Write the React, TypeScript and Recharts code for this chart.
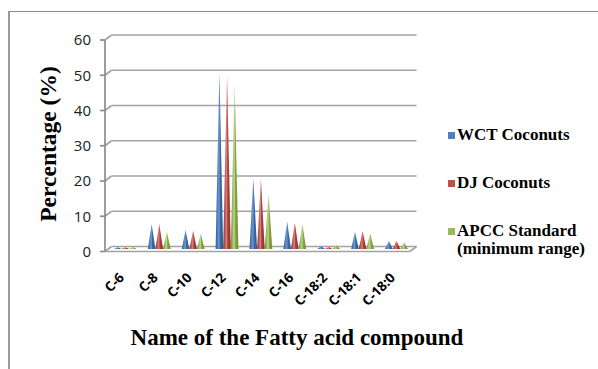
import React from 'react';
import { BarChart, Bar, XAxis, YAxis, CartesianGrid } from 'recharts';

// Fatty acid composition (%) by compound
const compounds = ['C-6', 'C-8', 'C-10', 'C-12', 'C-14', 'C-16', 'C-18:2', 'C-18:1', 'C-18:0'];
const wctCoconuts = [0.5, 7.1, 5.4, 50.2, 20.0, 7.7, 0.8, 4.9, 2.3];
const djCoconuts = [0.5, 7.1, 5.2, 49.3, 20.0, 7.5, 0.6, 5.1, 2.3];
const apccStandard = [0.6, 4.9, 4.4, 46.9, 15.5, 7.0, 1.1, 4.4, 1.9];
const yTicks = [0, 10, 20, 30, 40, 50, 60];

const seriesNames = ['WCT Coconuts', 'DJ Coconuts', 'APCC Standard (minimum range)'];
const seriesColors = ['#4F81BD', '#C0504D', '#9BBB59'];

const data = compounds.map((name, i) => ({
  name,
  wct: wctCoconuts[i],
  dj: djCoconuts[i],
  apcc: apccStandard[i],
}));

const WIDTH = 598;
const HEIGHT = 369;
const MARGIN = { top: 40, right: 188, bottom: 57.5, left: 60 };
const X_AXIS_HEIGHT = 60;
const PLOT_BOTTOM = HEIGHT - MARGIN.bottom - X_AXIS_HEIGHT;

// depth of the pseudo-3D back wall
const DEPTH_X = 6.5;
const DEPTH_Y = -5;

const GRID = '#a3a3a3';

// Back-wall gridlines with a short diagonal to the front axis; the floor at 0.
const gridLine = (props: any) => {
  const { x1, x2, y1, index } = props;
  const isFloor = Math.abs(y1 - PLOT_BOTTOM) < 1;
  return (
    <g key={`grid-${index}-${y1}`}>
      <line x1={x1} y1={y1} x2={x1 + DEPTH_X} y2={y1 + DEPTH_Y} stroke={GRID} strokeWidth={1.7} />
      <line x1={x1 + DEPTH_X} y1={y1 + DEPTH_Y} x2={x2 + DEPTH_X} y2={y1 + DEPTH_Y} stroke={GRID} strokeWidth={1.7} />
      {isFloor && (
        <>
          <line x1={x1} y1={y1} x2={x2} y2={y1} stroke={GRID} strokeWidth={1.7} />
          <line x1={x2} y1={y1} x2={x2 + DEPTH_X} y2={y1 + DEPTH_Y} stroke={GRID} strokeWidth={1.7} />
        </>
      )}
    </g>
  );
};

// Cone drawn as a shaded triangle sitting mid-depth on the floor
const makeCone = (gradId: string) => (props: any) => {
  const { x, y, width, height } = props;
  if (height == null || width == null) return <g />;
  const dx = DEPTH_X / 2;
  const dy = DEPTH_Y / 2;
  const baseY = y + height + dy;
  const tipY = y + dy;
  const pts = `${x + dx - 0.3},${baseY} ${x + width / 2 + dx},${tipY} ${x + width + dx + 0.3},${baseY}`;
  return <polygon points={pts} fill={`url(#${gradId})`} />;
};

const coneShapes = [makeCone('cone-wct'), makeCone('cone-dj'), makeCone('cone-apcc')];

const shade = [
  ['#2c5a91', '#6f9ad2', '#3d6aa6'],
  ['#8f2f2c', '#d9807d', '#a9403d'],
  ['#6f8c34', '#c2d98a', '#86a644'],
];

const CompoundTick = (props: any) => {
  const { x, y, payload } = props;
  return (
    <g transform={`translate(${x + 3},${y + 19})`}>
      <text
        textAnchor="end"
        transform="rotate(-45)"
        fontFamily="'Open Sans', sans-serif"
        fontWeight={700}
        fontSize={13.5}
        fill="#000"
      >
        {payload.value}
      </text>
    </g>
  );
};

const legendItems = seriesNames.map((n, i) => ({ name: n, color: seriesColors[i] }));

export default function App() {
  return (
    <div style={{ position: 'fixed', left: 0, top: 0, width: WIDTH, height: HEIGHT, overflow: 'hidden', background: '#fff' }}>
      <div
        style={{
          position: 'absolute',
          left: 8,
          top: 11,
          width: 700,
          height: 500,
          borderTop: '1.5px solid #8c8c8c',
          borderLeft: '2px solid #9a9a9a',
        }}
      />
      <div style={{ position: 'absolute', left: 0, top: 0 }}>
        <BarChart width={WIDTH} height={HEIGHT} data={data} margin={MARGIN} barSize={7} barGap={0.6}>
          <defs>
            {['cone-wct', 'cone-dj', 'cone-apcc'].map((id, i) => (
              <linearGradient key={id} id={id} x1="0" y1="0" x2="1" y2="0">
                <stop offset="0" stopColor={shade[i][0]} />
                <stop offset="0.45" stopColor={shade[i][1]} />
                <stop offset="0.6" stopColor={shade[i][2]} />
                <stop offset="1" stopColor={shade[i][0]} />
              </linearGradient>
            ))}
          </defs>
          <CartesianGrid vertical={false} horizontal={gridLine} />
          <XAxis
            dataKey="name"
            height={X_AXIS_HEIGHT}
            axisLine={false}
            tickLine={false}
            interval={0}
            tick={<CompoundTick />}
          />
          <YAxis
            domain={[0, 60]}
            ticks={yTicks}
            width={45}
            interval={0}
            axisLine={{ stroke: '#8c8c8c', strokeWidth: 1.7 }}
            tickLine={{ stroke: '#8c8c8c', strokeWidth: 1.7 }}
            tickSize={5}
            tickMargin={9}
            tick={{ fontFamily: "'Open Sans', sans-serif", fontSize: 15, fill: '#222' }}
            label={{
              content: () => (
                <text
                  x={0}
                  y={0}
                  transform="translate(56,144) rotate(-90)"
                  textAnchor="middle"
                  fontFamily="'Liberation Serif', 'Times New Roman', serif"
                  fontWeight={700}
                  fontSize={23.5}
                  fill="#000"
                >
                  Percentage (%)
                </text>
              ),
            }}
          />
          <Bar dataKey="wct" name={seriesNames[0]} fill={seriesColors[0]} shape={coneShapes[0]} isAnimationActive={false} />
          <Bar dataKey="dj" name={seriesNames[1]} fill={seriesColors[1]} shape={coneShapes[1]} isAnimationActive={false} />
          <Bar dataKey="apcc" name={seriesNames[2]} fill={seriesColors[2]} shape={coneShapes[2]} isAnimationActive={false} />
        </BarChart>
      </div>
      <div
        style={{
          position: 'absolute',
          left: 0,
          top: 325,
          width: 594,
          textAlign: 'center',
          fontFamily: "'Liberation Serif', 'Times New Roman', serif",
          fontWeight: 700,
          fontSize: 23,
          color: '#000',
          lineHeight: '25px',
        }}
      >
        Name of the Fatty acid compound
      </div>
      <div
        style={{
          position: 'absolute',
          left: 448,
          top: 126,
          fontFamily: "'Liberation Serif', 'Times New Roman', serif",
          fontWeight: 700,
          fontSize: 17,
          color: '#000',
          lineHeight: '18px',
        }}
      >
        {legendItems.map((it, i) => (
          <div key={it.name} style={{ display: 'flex', alignItems: 'flex-start', marginBottom: i < 2 ? 30 : 0 }}>
            <span
              style={{ display: 'inline-block', width: 7, height: 7, background: it.color, marginTop: 6, marginRight: 2, flex: 'none' }}
            />
            <span style={{ width: 145, whiteSpace: 'nowrap' }}>
              {i === 2 ? (
                <>
                  APCC Standard
                  <br />
                  (minimum range)
                </>
              ) : (
                it.name
              )}
            </span>
          </div>
        ))}
      </div>
    </div>
  );
}
